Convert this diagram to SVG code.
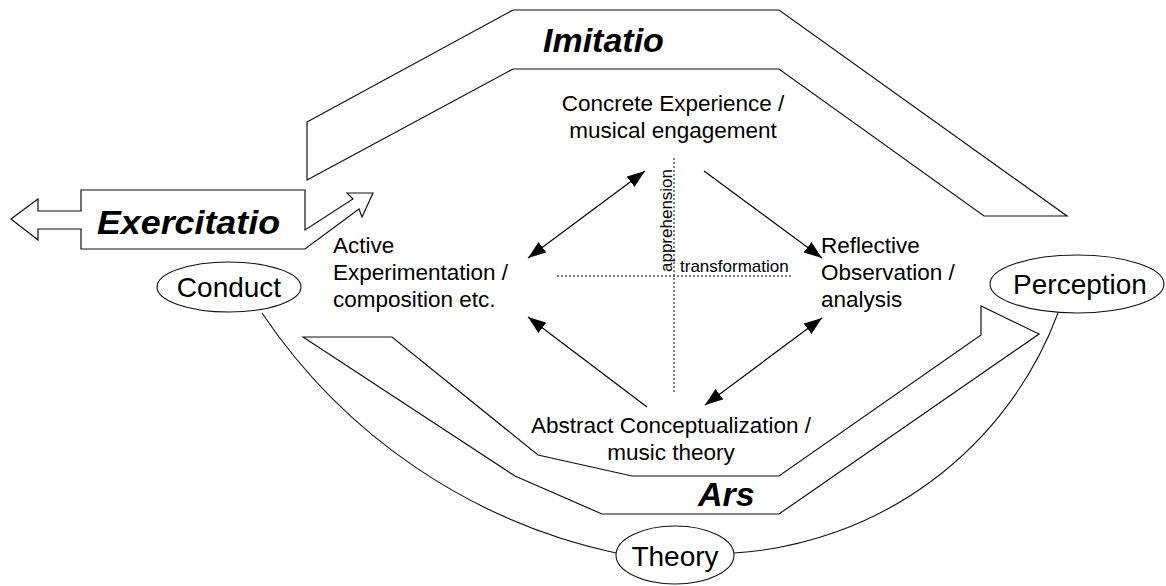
<svg xmlns="http://www.w3.org/2000/svg" width="1166" height="586" viewBox="0 0 1166 586">
  <style>
    .band { fill: none; stroke: #111; stroke-width: 1.2; stroke-linejoin: miter; }
    .band-title { font-family: "Liberation Sans", Arial, sans-serif; font-weight: bold; font-style: italic; font-size: 34px; fill: #000; }
    .label { font-family: "Liberation Sans", Arial, sans-serif; font-size: 22.5px; fill: #000; }
    .node-shape { fill: #fff; stroke: #111; stroke-width: 1.1; }
    .node-text { font-family: "Liberation Sans", Arial, sans-serif; font-size: 28px; fill: #000; text-anchor: middle; }
    .axis { stroke: #555; stroke-width: 1.4; stroke-dasharray: 2 2; fill: none; }
    .axis-text { font-family: "Liberation Sans", Arial, sans-serif; font-size: 17px; fill: #000; }
    .edge { stroke: #000; stroke-width: 1.2; fill: none; }
    .arc { stroke: #111; stroke-width: 1.1; fill: none; }
  </style>
  <defs>
    <marker id="head" markerUnits="userSpaceOnUse" markerWidth="20" markerHeight="14" refX="18" refY="6.5" orient="auto-start-reverse">
      <path d="M0,0 L18,6.5 L0,13 z" fill="#000"/>
    </marker>
  </defs>

  <rect width="1166" height="586" fill="#fff"/>

  <!-- Imitatio band across the top -->
  <g id="imitatio">
    <polygon class="band" points="307,122 513,10 779,10 1067,216 984,216 779,69 513,69 307,180"/>
    <text class="band-title" x="543" y="52">Imitatio</text>
  </g>

  <!-- Exercitatio band with arrows both ways -->
  <g id="exercitatio">
    <polygon class="band" points="11,219 38,199 38,211 81,211 81,190 305,190 305,230 353,199 347,193 373,193 362,217 359,209 305,249 81,249 81,229 38,229 38,240"/>
    <text class="band-title" x="97" y="234" textLength="183" lengthAdjust="spacingAndGlyphs">Exercitatio</text>
  </g>

  <!-- Ars band along the bottom -->
  <g id="ars">
    <polygon class="band" points="303,337 515,476 602,514 779,514 1039,334 981,306 981,335 779,476 632,476 538,455 392,337"/>
    <text class="band-title" x="698" y="506">Ars</text>
  </g>

  <!-- connectors: arcs between the outer nodes, cycle arrows, axes -->
  <g id="connectors">
    <path class="arc" d="M262,313 A571,571 0 0 0 616,553"/>
    <path class="arc" d="M734,553 A370,370 0 0 0 1058,313"/>

    <line class="axis" x1="674" y1="158" x2="674" y2="392"/>
    <line class="axis" x1="557" y1="276" x2="792" y2="276"/>

    <line class="edge" x1="645" y1="171" x2="528" y2="258" marker-start="url(#head)" marker-end="url(#head)"/>
    <line class="edge" x1="704" y1="171" x2="822" y2="258" marker-end="url(#head)"/>
    <line class="edge" x1="647" y1="407" x2="528" y2="317" marker-end="url(#head)"/>
    <line class="edge" x1="822" y1="318" x2="705" y2="405" marker-start="url(#head)" marker-end="url(#head)"/>
  </g>

  <g id="axis-labels">
    <text class="axis-text" transform="translate(672,272) rotate(-90)">apprehension</text>
    <text class="axis-text" x="680" y="272">transformation</text>
  </g>

  <!-- stages of the learning cycle -->
  <g id="concrete-experience">
    <text class="label" text-anchor="middle" x="673" y="111">Concrete Experience /</text>
    <text class="label" text-anchor="middle" x="673" y="138">musical engagement</text>
  </g>
  <g id="active-experimentation">
    <text class="label" x="333" y="253">Active</text>
    <text class="label" x="333" y="280">Experimentation /</text>
    <text class="label" x="333" y="307">composition etc.</text>
  </g>
  <g id="reflective-observation">
    <text class="label" x="821" y="253">Reflective</text>
    <text class="label" x="821" y="280">Observation /</text>
    <text class="label" x="821" y="307">analysis</text>
  </g>
  <g id="abstract-conceptualization">
    <text class="label" text-anchor="middle" x="671" y="433">Abstract Conceptualization /</text>
    <text class="label" text-anchor="middle" x="671" y="460">music theory</text>
  </g>

  <!-- outer nodes -->
  <g id="conduct">
    <ellipse class="node-shape" cx="229" cy="287" rx="72" ry="25"/>
    <text class="node-text" x="229" y="297">Conduct</text>
  </g>
  <g id="perception">
    <ellipse class="node-shape" cx="1077" cy="284" rx="87" ry="29"/>
    <text class="node-text" x="1080" y="294">Perception</text>
  </g>
  <g id="theory">
    <ellipse class="node-shape" cx="675" cy="555" rx="59" ry="29"/>
    <text class="node-text" x="675" y="566">Theory</text>
  </g>
</svg>
